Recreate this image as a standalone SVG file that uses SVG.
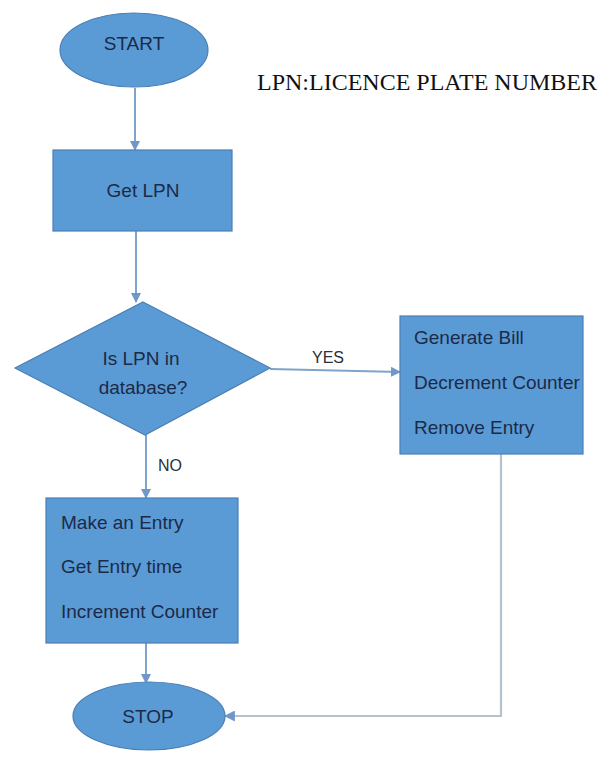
<svg xmlns="http://www.w3.org/2000/svg" width="612" height="758" viewBox="0 0 612 758">
<defs>
<style>
.shape{fill:#5b9bd5;stroke:#4a7fb5;stroke-width:1.2}
.t{font-family:"Liberation Sans",Arial,sans-serif;fill:#1c2a48;font-size:19px}
.c{text-anchor:middle}
.lbl{font-family:"Liberation Sans",Arial,sans-serif;fill:#2a2f3a;font-size:16px}
.conn{fill:none;stroke:#7ea3cc;stroke-width:2}
.ret{fill:none;stroke:#b4c1cf;stroke-width:2.2}
</style>
<marker id="ah" viewBox="0 0 10 10" refX="9" refY="5" markerWidth="5" markerHeight="5" orient="auto" markerUnits="strokeWidth">
<path d="M0,0 L10,5 L0,10 z" fill="#6f98c8"/>
</marker>
</defs>
<rect width="612" height="758" fill="#ffffff"/>
<g id="connectors">
<line class="conn" x1="135" y1="88" x2="135" y2="150" marker-end="url(#ah)"/>
<line class="conn" x1="136" y1="231" x2="136" y2="302" marker-end="url(#ah)"/>
<line class="conn" x1="270" y1="369" x2="400" y2="372" marker-end="url(#ah)"/>
<line class="conn" x1="146" y1="435" x2="146" y2="498" marker-end="url(#ah)"/>
<line class="conn" x1="146" y1="643" x2="146" y2="683" marker-end="url(#ah)"/>
<polyline class="ret" points="501,454 501,716 225,716" marker-end="url(#ah)"/>
<text class="lbl" x="328" y="363" text-anchor="middle">YES</text>
<text class="lbl" x="170" y="471" text-anchor="middle">NO</text>
</g>
<g id="start">
<ellipse class="shape" cx="134" cy="50" rx="74" ry="37"/>
<text class="t c" x="134" y="50" font-size="16">START</text>
</g>
<g id="legend">
<text x="257" y="90" font-family="'Liberation Serif','Times New Roman',serif" font-size="24" fill="#111">LPN:LICENCE PLATE NUMBER</text>
</g>
<g id="get-lpn">
<rect class="shape" x="53" y="150" width="179" height="81"/>
<text class="t c" x="143" y="197" font-size="17">Get LPN</text>
</g>
<g id="decision">
<polygon class="shape" points="143,302 270,368 145,435 15,368"/>
<text class="t c" x="141" y="365">Is LPN in</text>
<text class="t c" x="143" y="394">database?</text>
</g>
<g id="yes-box">
<rect class="shape" x="400" y="316" width="183" height="138"/>
<text class="t" x="414" y="344">Generate Bill</text>
<text class="t" x="414" y="389">Decrement Counter</text>
<text class="t" x="414" y="434">Remove Entry</text>
</g>
<g id="no-box">
<rect class="shape" x="46" y="498" width="192" height="145"/>
<text class="t" x="61" y="529">Make an Entry</text>
<text class="t" x="61" y="573">Get Entry time</text>
<text class="t" x="61" y="618">Increment Counter</text>
</g>
<g id="stop">
<ellipse class="shape" cx="149" cy="716" rx="76" ry="34"/>
<text class="t c" x="148" y="723" font-size="16">STOP</text>
</g>
</svg>
